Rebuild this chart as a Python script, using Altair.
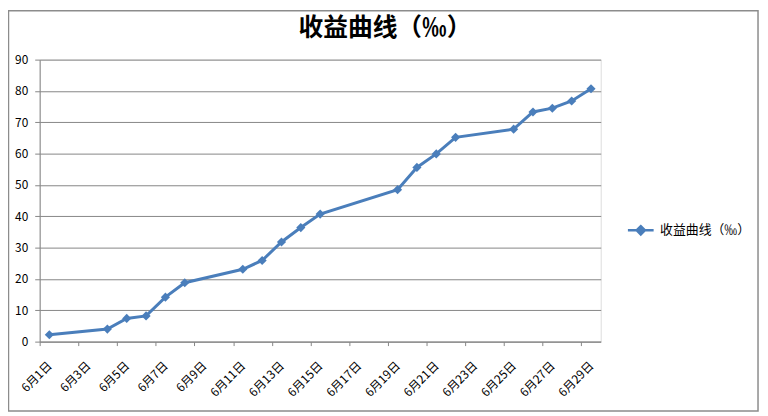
import altair as alt
import pandas as pd

# ---- data ----
series_name = "收益曲线（‰）"
chart_title = "收益曲线（‰）"
days = [1, 4, 5, 6, 7, 8, 11, 12, 13, 14, 15, 19, 20, 21, 22, 25, 26, 27, 28, 29]
values = [2.2, 4.0, 7.4, 8.2, 14.2, 18.8, 23.1, 25.9, 31.8, 36.4, 40.7,
          48.5, 55.6, 59.9, 65.2, 67.8, 73.3, 74.5, 76.8, 80.7]
tick_labels = ["6月1日", "6月3日", "6月5日", "6月7日", "6月9日", "6月11日",
               "6月13日", "6月15日", "6月17日", "6月19日", "6月21日",
               "6月23日", "6月25日", "6月27日", "6月29日"]
y_ticks = [0, 10, 20, 30, 40, 50, 60, 70, 80, 90]

df = pd.DataFrame({"day": days, "value": values, "series": series_name})

# ticks sit at the day-slot boundaries every two days
tick_values = [0.5 + 2 * i for i in range(len(tick_labels))]
label_expr = "[" + ",".join("'" + t + "'" for t in tick_labels) + "][round((datum.value - 0.5) / 2)]"

FONT = "Noto Sans CJK SC"
BLUE = "#4A7EBB"
GRID = "#868686"

x_enc = alt.X(
    "day:Q",
    scale=alt.Scale(domain=[0.5, 29.5], nice=False, zero=False),
    axis=alt.Axis(
        values=tick_values,
        labelExpr=label_expr,
        labelAngle=-45,
        labelAlign="right",
        labelBaseline="middle",
        labelOffset=9.8,
        labelPadding=18,
        labelFlush=False,
        labelOverlap=False,
        labelBound=False,
        labelFont=FONT,
        labelFontSize=12,
        labelColor="#000000",
        tickSize=4,
        tickColor=GRID,
        domainColor=GRID,
        grid=False,
        title=None,
    ),
)
y_enc = alt.Y(
    "value:Q",
    scale=alt.Scale(domain=[0, 90], nice=False),
    axis=alt.Axis(
        values=y_ticks,
        grid=True,
        gridColor=GRID,
        gridWidth=1,
        gridOpacity=1,
        tickSize=5,
        tickColor=GRID,
        domainColor=GRID,
        labelFont=FONT,
        labelFontSize=12,
        labelColor="#000000",
        labelPadding=7,
        title=None,
    ),
)

line = alt.Chart(df).mark_line(strokeWidth=3, color=BLUE).encode(
    x=x_enc,
    y=y_enc,
)

points = alt.Chart(df).mark_point(shape="diamond", filled=True, size=85, opacity=1).encode(
    x=x_enc,
    y=y_enc,
    color=alt.Color(
        "series:N",
        scale=alt.Scale(domain=[series_name], range=[BLUE]),
        legend=alt.Legend(
            title=None,
            orient="none",
            legendX=593,
            legendY=158,
            padding=0,
            symbolType="M-1,0L1,0M0,-0.32L0.32,0L0,0.32L-0.32,0Z",
            symbolSize=676,
            symbolStrokeWidth=2.5,
            symbolStrokeColor=BLUE,
            symbolFillColor=BLUE,
            symbolOpacity=1,
            labelFont=FONT,
            labelFontSize=13,
            labelColor="#000000",
            labelOffset=5,
        ),
    ),
)

title_df = pd.DataFrame({"t": [chart_title]})

# outer chart frame (decoration)
frame = alt.Chart(title_df).mark_rect(
    fillOpacity=0, stroke="#8C8C8C", strokeWidth=1.5
).encode(
    x=alt.value(-31.5), x2=alt.value(726), y=alt.value(-49.5), y2=alt.value(355)
)

title = alt.Chart(title_df).mark_text(
    font=FONT, fontSize=25, fontWeight="bold", color="#000000",
    align="center", baseline="middle",
).encode(
    text="t:N", x=alt.value(349), y=alt.value(-32)
)

chart = (
    alt.layer(frame, title, line, points)
    .properties(
        width=567,
        height=285,
        padding={"left": 32, "top": 50, "right": 161, "bottom": 73},
        autosize=alt.AutoSizeParams(type="none"),
    )
    .configure_view(strokeWidth=0)
    .configure(background="white")
)

chart.save("out.html", embed_options={"renderer": "svg", "actions": False})
